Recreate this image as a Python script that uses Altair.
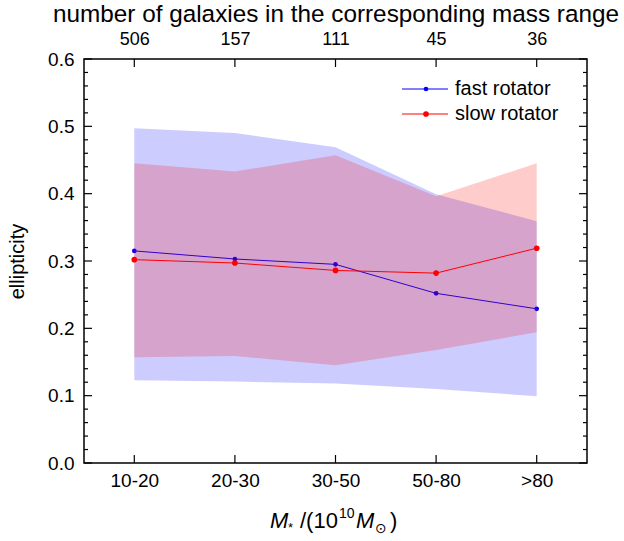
import altair as alt
import pandas as pd

# ---- data ----
categories = ["10-20", "20-30", "30-50", "50-80", ">80"]
counts = ["506", "157", "111", "45", "36"]
fast_mean = [0.315, 0.303, 0.295, 0.252, 0.229]
fast_lo = [0.123, 0.121, 0.118, 0.110, 0.099]
fast_hi = [0.497, 0.490, 0.469, 0.399, 0.359]
slow_mean = [0.302, 0.297, 0.286, 0.282, 0.319]
slow_lo = [0.157, 0.159, 0.145, 0.168, 0.194]
slow_hi = [0.445, 0.433, 0.457, 0.396, 0.445]
y_major = [0.0, 0.1, 0.2, 0.3, 0.4, 0.5, 0.6]
y_minor = [round(0.02 * k, 2) for k in range(31) if k % 5 != 0]

FONT = "Liberation Sans"
W, H = 503, 404
BLUE = "#0000FF"
RED = "#FF0000"

idx = list(range(1, len(categories) + 1))
df = pd.DataFrame({
    "i": idx, "cat": categories, "n": counts,
    "fm": fast_mean, "flo": fast_lo, "fhi": fast_hi,
    "sm": slow_mean, "slo": slow_lo, "shi": slow_hi,
})
one = pd.DataFrame({"k": [0]})
ymaj = pd.DataFrame({"v": y_major})
ymin = pd.DataFrame({"v": y_minor})
xt = pd.DataFrame({"i": idx})

xscale = alt.Scale(domain=[0.5, 5.5], nice=False, zero=False)
yscale = alt.Scale(domain=[0, 0.6], nice=False, zero=True)

cat_expr = "[" + ",".join("'%s'" % c for c in categories) + "][datum.value-1]"
cnt_expr = "[" + ",".join("'%s'" % c for c in counts) + "][datum.value-1]"

xnone = alt.X("i:Q", scale=xscale, axis=None)

blue_area = alt.Chart(df).mark_area(color=BLUE, opacity=0.2).encode(
    x=alt.X("i:Q", scale=xscale, axis=alt.Axis(
        orient="bottom", values=idx, labelExpr=cat_expr, ticks=False,
        domain=False, grid=False, title=None, labelFontSize=19,
        labelPadding=8)),
    y=alt.Y("flo:Q", scale=yscale, axis=alt.Axis(
        orient="left", values=y_major, format=".1f", ticks=False,
        domain=False, grid=False, title="ellipticity", titleFontSize=20,
        labelFontSize=19, labelPadding=10, titleX=-67, titleY=202,
        titleAngle=270, titleAlign="center", titleBaseline="middle")),
    y2="fhi:Q",
)
blue_line = alt.Chart(df).mark_line(color=BLUE, strokeWidth=1).encode(
    x=alt.X("i:Q", scale=xscale, axis=alt.Axis(
        orient="top", values=idx, labelExpr=cnt_expr, ticks=False,
        domain=False, grid=False,
        title="number of galaxies in the corresponding mass range",
        titleFontSize=24.3, labelFontSize=18, labelPadding=11,
        titleX=W / 2, titleY=-45, titleBaseline="middle")),
    y=alt.Y("fm:Q", scale=yscale, axis=None),
)
blue_pts = alt.Chart(df).mark_circle(color=BLUE, size=22, opacity=1).encode(
    x=xnone, y=alt.Y("fm:Q", scale=yscale, axis=None))

red_area = alt.Chart(df).mark_area(color=RED, opacity=0.2).encode(
    x=xnone, y=alt.Y("slo:Q", scale=yscale, axis=None), y2="shi:Q")
red_line = alt.Chart(df).mark_line(color=RED, strokeWidth=1).encode(
    x=xnone, y=alt.Y("sm:Q", scale=yscale, axis=None))
red_pts = alt.Chart(df).mark_circle(color=RED, size=32, opacity=1).encode(
    x=xnone, y=alt.Y("sm:Q", scale=yscale, axis=None))

# inward ticks on all four sides
def ytick(data, x0, x1):
    return alt.Chart(data).mark_rule(color="black", strokeWidth=1.2).encode(
        y=alt.Y("v:Q", scale=yscale, axis=None),
        x=alt.value(x0), x2=alt.value(x1))

def xtick(y0, y1):
    return alt.Chart(xt).mark_rule(color="black", strokeWidth=1.2).encode(
        x=alt.X("i:Q", scale=xscale, axis=None),
        y=alt.value(y0), y2=alt.value(y1))

ticks = [
    ytick(ymaj, 0, 8), ytick(ymin, 0, 4),
    ytick(ymaj, W, W - 8), ytick(ymin, W, W - 4),
    xtick(H, H - 8), xtick(0, 8),
]

# legend
def leg(color, y, label, size):
    ln = alt.Chart(one).mark_rule(color=color, strokeWidth=1).encode(
        x=alt.value(318), x2=alt.value(364), y=alt.value(y))
    pt = alt.Chart(one).mark_circle(color=color, size=size, opacity=1).encode(
        x=alt.value(342), y=alt.value(y))
    tx = alt.Chart(one).mark_text(align="left", baseline="middle", fontSize=20,
                                  font=FONT, fontWeight="normal",
                                  fill="black").encode(
        x=alt.value(371), y=alt.value(y), text=alt.value(label))
    return [ln, pt, tx]

legend = leg(BLUE, 30, "fast rotator", 22) + leg(RED, 55, "slow rotator", 32)

# x-axis title with super/subscripts
def txt(s, x, y, size, style="normal", font=FONT):
    return alt.Chart(one).mark_text(align="left", baseline="alphabetic",
                                    fontSize=size, fontStyle=style, font=font,
                                    fontWeight="normal", fill="black").encode(
        x=alt.value(x), y=alt.value(y), text=alt.value(s))

xtitle = [
    txt("M", 186, 469, 22, "italic"),
    txt("*", 204, 473, 13),
    txt("/(10", 216, 469, 22),
    txt("10", 255, 459, 14),
    txt("M", 272, 469, 22, "italic"),
    txt("\u2299", 291, 474, 14, font="DejaVu Sans"),
    txt(")", 306, 469, 22),
]

chart = alt.layer(
    blue_area, blue_line, blue_pts, red_area, red_line, red_pts,
    *ticks, *legend, *xtitle
).resolve_axis(x="independent", y="independent").properties(
    width=W, height=H,
    padding={"left": 84, "top": 59, "right": 37, "bottom": 78},
    autosize=alt.AutoSizeParams(type="none"),
).configure_view(stroke="black", strokeWidth=1.5).configure_axis(
    labelFont=FONT, titleFont=FONT, labelColor="black", titleColor="black",
    titleFontWeight="normal"
)

chart.save("out.html", embed_options={"renderer": "svg", "actions": False})
